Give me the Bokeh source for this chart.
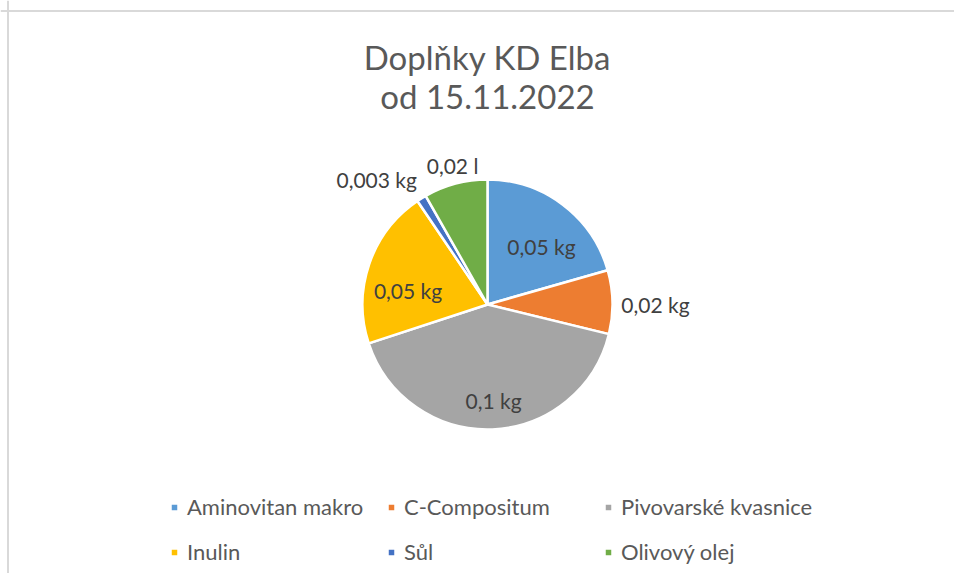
import math
from bokeh.plotting import figure
from bokeh.models import ColumnDataSource, Range1d, Legend, LegendItem, Span, Label
from bokeh.core.properties import value
from bokeh.embed import file_html
from bokeh.resources import INLINE

# ---- data ----
categories = ["Aminovitan makro", "C-Compositum", "Pivovarské kvasnice", "Inulin", "Sůl", "Olivový olej"]
amounts = [0.05, 0.02, 0.1, 0.05, 0.003, 0.02]
units = ["kg", "kg", "kg", "kg", "kg", "l"]
colors = ["#5B9BD5", "#ED7D31", "#A5A5A5", "#FFC000", "#4472C4", "#70AD47"]
title_lines = ["Doplňky KD Elba", "od 15.11.2022"]

# ---- layout constants ----
W, H = 954, 573
CX, CY, R = 487, 304, 125          # pie centre / radius in pixels inside figure
label_r = [0.634, 1.344, 0.770, 0.646, 1.334, 1.147]   # label distance (in radii)
label_shift = [5.9, 1.1, -1.4, -8.6, -9.8, 0.7]         # label angle nudge (deg, clockwise)
FONT = "Lato"

total = sum(amounts)
starts, ends, lx, ly, texts = [], [], [], [], []
cum = 0.0
for i, v in enumerate(amounts):
    a0 = cum / total
    cum += v
    a1 = cum / total
    starts.append(math.pi / 2 - a0 * 2 * math.pi)
    ends.append(math.pi / 2 - a1 * 2 * math.pi)
    mid = (a0 + a1) / 2 * 360 + label_shift[i]
    th = math.radians(mid)
    lx.append(label_r[i] * math.sin(th))
    ly.append(label_r[i] * math.cos(th))
    texts.append(f"{v:g}".replace(".", ",") + " " + units[i])

src = ColumnDataSource(dict(cat=categories, val=amounts, start=starts, end=ends,
                            color=colors, lx=lx, ly=ly, txt=texts))

p = figure(width=W, height=H, output_backend="svg", toolbar_location=None,
           x_axis_type=None, y_axis_type=None, min_border=0,
           x_range=Range1d(-CX / R, (W - CX) / R),
           y_range=Range1d(-(H - CY) / R, CY / R))
p.grid.visible = False
p.outline_line_color = None
p.background_fill_color = "white"
p.border_fill_color = "white"

# chart-area border (top & left visible)
p.add_layout(Span(location=(CY - 10.5) / R, dimension="width", line_color="#d9d9d9", line_width=2))
p.add_layout(Span(location=(7.5 - CX) / R, dimension="height", line_color="#d9d9d9", line_width=2))

wr = p.wedge(x=0, y=0, radius=1, start_angle="start", end_angle="end", direction="clock",
             fill_color="color", line_color="white", line_width=2.5, source=src)

p.text(x="lx", y="ly", text="txt", source=src, text_align="center", text_baseline="middle",
       text_font=value(FONT), text_font_size="21px", text_color="#404040")

# title (two lines)
for k, t in enumerate(title_lines):
    p.add_layout(Label(x=0, y=(CY - 56 - 39 * k) / R, text=t, text_align="center",
                       text_baseline="middle", text_font=FONT, text_font_size="33px",
                       text_color="#595959"))

items = [LegendItem(label=c, renderers=[wr], index=i) for i, c in enumerate(categories)]
legend = Legend(items=items, ncols=3, location=(169, 8), orientation="horizontal",
                label_text_font=FONT, label_text_font_size="22px", label_text_color="#595959",
                glyph_width=10, glyph_height=10, label_standoff=8, label_width=181,
                label_height=24, spacing=18, padding=0, margin=0,
                border_line_color=None, background_fill_alpha=0)
p.add_layout(legend, "center")

open("out.html", "w").write(file_html(p, INLINE))
